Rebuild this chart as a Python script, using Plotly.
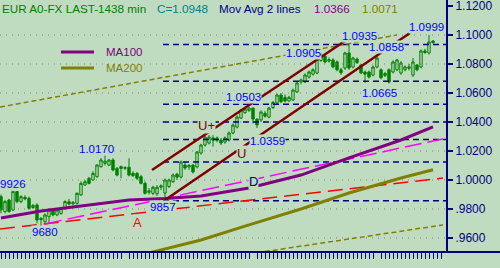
import plotly.graph_objects as go

BG = "#c0dcc0"
GREEN = "#008000"
NAVY = "#000080"
BLUE = "#0000ff"
PURPLE = "#800080"
OLIVE = "#808000"
DKRED = "#800000"
FONT = "Liberation Sans, Arial, sans-serif"

# ---- candle data (index = trading day) ----
opens = [0.9885,0.9782,0.9862,0.9793,0.9920,0.9851,0.9880,0.9874,0.9810,0.9828,
         0.9735,0.9712,0.9747,0.9793,0.9759,0.9770,0.9805,0.9850,0.9835,0.9839,
         0.9897,0.9966,1.0012,1.0000,1.0023,1.0092,1.0115,1.0103,1.0138,1.0080,
         1.0092,1.0080,1.0088,1.0046,1.0046,1.0023,0.9977,0.9915,0.9908,0.9905,
         0.9950,0.9910,0.9955,0.9988,1.0040,1.0020,1.0103,1.0090,1.0103,1.0090,
         1.0186,1.0241,1.0255,1.0290,1.0275,1.0275,1.0262,1.0276,1.0324,1.0365,
         1.0427,1.0465,1.0480,1.0496,1.0420,1.0414,1.0460,1.0434,1.0500,1.0531,
         1.0586,1.0570,1.0545,1.0552,1.0607,1.0676,1.0676,1.0710,1.0730,1.0738,
         1.0825,1.0855,1.0820,1.0828,1.0814,1.0760,1.0772,1.0876,1.0779,1.0834,
         1.0793,1.0745,1.0745,1.0724,1.0779,1.0760,1.0720,1.0760,1.0745,1.0760,
         1.0738,1.0760,1.0770,1.0724,1.0793,1.0779,1.0890,1.0876,1.0958]
highs = [0.9900,0.9862,0.9870,0.9926,0.9924,0.9895,0.9895,0.9885,0.9835,0.9840,
         0.9745,0.9770,0.9805,0.9805,0.9800,0.9815,0.9860,0.9870,0.9855,0.9915,
         0.9990,1.0000,1.0020,1.0060,1.0110,1.0150,1.0170,1.0145,1.0150,1.0090,
         1.0100,1.0095,1.0150,1.0060,1.0055,1.0035,0.9990,0.9945,0.9960,0.9965,
         0.9970,1.0010,1.0010,1.0045,1.0050,1.0135,1.0125,1.0110,1.0110,1.0200,
         1.0250,1.0305,1.0310,1.0310,1.0300,1.0290,1.0300,1.0335,1.0390,1.0445,
         1.0490,1.0495,1.0503,1.0500,1.0425,1.0480,1.0475,1.0505,1.0545,1.0595,
         1.0600,1.0590,1.0580,1.0630,1.0680,1.0700,1.0735,1.0755,1.0770,1.0905,
         1.0875,1.0865,1.0845,1.0840,1.0825,1.0775,1.0885,1.0935,1.0850,1.0845,
         1.0800,1.0755,1.0755,1.0790,1.0858,1.0770,1.0745,1.0770,1.0825,1.0835,
         1.0820,1.0790,1.0800,1.0841,1.0800,1.0900,1.0905,1.0999,1.0965]
lows = [0.9770,0.9770,0.9775,0.9785,0.9840,0.9840,0.9860,0.9795,0.9800,0.9700,
        0.9680,0.9700,0.9702,0.9750,0.9750,0.9760,0.9795,0.9825,0.9825,0.9830,
        0.9890,0.9960,0.9970,0.9995,1.0015,1.0085,1.0100,1.0095,1.0060,1.0025,
        1.0012,1.0070,1.0025,1.0020,1.0000,0.9970,0.9900,0.9900,0.9895,0.9890,
        0.9930,0.9857,0.9945,0.9980,1.0000,1.0010,1.0070,1.0070,1.0045,1.0080,
        1.0175,1.0230,1.0245,1.0230,1.0260,1.0240,1.0250,1.0265,1.0315,1.0355,
        1.0420,1.0455,1.0470,1.0390,1.0359,1.0400,1.0430,1.0425,1.0490,1.0525,
        1.0530,1.0535,1.0540,1.0545,1.0600,1.0660,1.0670,1.0700,1.0720,1.0730,
        1.0815,1.0805,1.0810,1.0770,1.0750,1.0725,1.0760,1.0760,1.0770,1.0800,
        1.0730,1.0670,1.0700,1.0715,1.0770,1.0695,1.0710,1.0665,1.0735,1.0750,
        1.0725,1.0750,1.0755,1.0710,1.0750,1.0770,1.0870,1.0865,1.0940]
closes = [0.9793,0.9851,0.9782,0.9920,0.9851,0.9885,0.9870,0.9805,0.9825,0.9724,
          0.9728,0.9759,0.9793,0.9759,0.9793,0.9805,0.9851,0.9835,0.9845,0.9908,
          0.9977,0.9988,0.9977,1.0046,1.0103,1.0138,1.0130,1.0138,1.0069,1.0034,
          1.0080,1.0085,1.0034,1.0030,1.0012,0.9977,0.9908,0.9925,0.9950,0.9950,
          0.9960,1.0000,1.0000,1.0034,1.0020,1.0124,1.0083,1.0100,1.0055,1.0193,
          1.0241,1.0296,1.0296,1.0275,1.0290,1.0255,1.0290,1.0324,1.0379,1.0434,
          1.0483,1.0490,1.0496,1.0420,1.0380,1.0469,1.0440,1.0496,1.0535,1.0586,
          1.0540,1.0545,1.0570,1.0620,1.0669,1.0690,1.0724,1.0745,1.0760,1.0841,
          1.0862,1.0814,1.0830,1.0780,1.0760,1.0740,1.0876,1.0772,1.0841,1.0810,
          1.0738,1.0730,1.0710,1.0779,1.0841,1.0705,1.0735,1.0676,1.0814,1.0828,
          1.0807,1.0780,1.0780,1.0814,1.0760,1.0890,1.0880,1.0952,1.0948]
days = list(range(len(closes)))

# ---- moving averages (sampled points) ----
ma100_x = [0, 10, 20, 32, 41, 50, 62, 75, 87, 100, 108]
ma100_y = [0.9738, 0.9786, 0.9821, 0.9862, 0.9872, 0.9890, 0.9945, 1.0034, 1.0152, 1.0276, 1.0366]
ma200_x = [36, 50, 62, 75, 87, 100, 108]
ma200_y = [0.9490, 0.9586, 0.9690, 0.9800, 0.9910, 1.0014, 1.0071]

# ---- drawn trend lines (start/end in day, price) ----
red_x, red_y = [-0.25, 110.5], [0.9662, 1.0014]
mag_x, mag_y = [11, 110.5], [0.9697, 1.0283]
olive_up_x, olive_up_y = [-0.25, 99], [1.0503, 1.1000]
olive_lo_x, olive_lo_y = [62, 110.5], [0.9490, 0.9690]
chan_up_x, chan_up_y = [37.75, 86.0], [1.0069, 1.0959]
chan_lo_x, chan_lo_y = [41, 102.25], [0.9862, 1.1014]

# ---- retracement levels ----
fib_start = 40.5
fib_levels = [1.0935, 1.0681, 1.0523, 1.0400, 1.0280, 1.0124, 0.9857]
grid_levels = [0.96, 0.98, 1.00, 1.02, 1.04, 1.06, 1.08, 1.10]

tick_vals = [0.96, 0.98, 1.00, 1.02, 1.04, 1.06, 1.08, 1.10, 1.12]
tick_text = [".9600", ".9800", "1.0000", "1.0200", "1.0400", "1.0600", "1.0800", "1.1000", "1.1200"]

x_ticks = [i for i in range(111) if i not in (31, 63, 94)]

# price labels: (text, day, price, color)
labels = [
    ("9926", 2.9, 0.9972, BLUE), ("9680", 11.0, 0.9641, BLUE),
    ("1.0170", 23.9, 1.0217, BLUE), ("9857", 40.6, 0.9817, BLUE),
    ("1.0503", 60.5, 1.0569, BLUE), ("1.0359", 66.6, 1.0269, BLUE),
    ("1.0905", 75.5, 1.0879, BLUE), ("1.0935", 89.5, 1.0990, BLUE),
    ("1.0858", 96.4, 1.0914, BLUE), ("1.0665", 94.5, 1.0603, BLUE),
    ("1.0999", 106.25, 1.1052, BLUE),
]
marks = [("U+", 51.25, 1.0379, DKRED), ("U", 60.1, 1.0186, DKRED),
         ("D", 63.1, 0.9993, NAVY), ("A", 34.1, 0.9707, "#ff0000")]

XR = [-0.25, 111.25]
YR = [0.95034, 1.12414]

fig = go.Figure()

for lv in grid_levels:
    fig.add_trace(go.Scatter(x=XR, y=[lv, lv], mode="lines", hoverinfo="skip",
                             line=dict(color="#808080", width=1, dash="1px,5px"), showlegend=False))
for lv in fib_levels:
    fig.add_trace(go.Scatter(x=[fib_start, XR[1]], y=[lv, lv], mode="lines", hoverinfo="skip",
                             line=dict(color=NAVY, width=1.5, dash="6px,4px"), showlegend=False))

def line(xs, ys, color, width, dash="solid"):
    fig.add_trace(go.Scatter(x=xs, y=ys, mode="lines", hoverinfo="skip",
                             line=dict(color=color, width=width, dash=dash), showlegend=False))

line(olive_up_x, olive_up_y, OLIVE, 1.5, "5px,3px")
line(olive_lo_x, olive_lo_y, OLIVE, 1.5, "5px,3px")
line(red_x, red_y, "#ff0000", 1.5, "15px,7px")
line(mag_x, mag_y, "#ff00ff", 1.5, "17px,6px")
line(ma200_x, ma200_y, OLIVE, 3)
line(ma100_x, ma100_y, PURPLE, 3)
line(chan_up_x, chan_up_y, DKRED, 2.5)
line(chan_lo_x, chan_lo_y, DKRED, 2.5)

fig.add_trace(go.Candlestick(
    x=days, open=opens, high=highs, low=lows, close=closes,
    increasing=dict(line=dict(color=GREEN, width=1), fillcolor=BG),
    decreasing=dict(line=dict(color=GREEN, width=1), fillcolor=GREEN),
    whiskerwidth=0, showlegend=False, hoverinfo="skip"))

ann = []
for t, xx, yy, c in labels:
    ann.append(dict(text=t, x=xx, y=yy, xref="x", yref="y", showarrow=False,
                    font=dict(family=FONT, size=11.5, color=c), bgcolor=BG, borderpad=0))
for t, xx, yy, c in marks:
    ann.append(dict(text=t, x=xx, y=yy, xref="x", yref="y", showarrow=False,
                    font=dict(family=FONT, size=13, color=c), bgcolor=BG, borderpad=0))

PW, PH = 446.0, 252.0
def px(x):
    return x / PW
def py(y):
    return 1 - y / PH

header = [("EUR A0-FX LAST-1438 min", 0, GREEN), ("C=1.0948", 155, "#008080"),
          ("Mov Avg 2 lines", 217, NAVY), ("1.0366", 312, PURPLE), ("1.0071", 360, OLIVE)]
for t, x0, c in header:
    ann.append(dict(text=t, x=px(x0), y=py(8), xref="paper", yref="paper", xanchor="left",
                    yanchor="middle", showarrow=False, font=dict(family=FONT, size=11.7, color=c)))

legend = [("MA100", 52, PURPLE), ("MA200", 68, OLIVE)]
shapes = []
for t, yy, c in legend:
    shapes.append(dict(type="line", xref="paper", yref="paper", x0=px(61), x1=px(94),
                       y0=py(yy), y1=py(yy), line=dict(color=c, width=3)))
    ann.append(dict(text=t, x=px(104), y=py(yy), xref="paper", yref="paper", xanchor="left",
                    yanchor="middle", showarrow=False, font=dict(family=FONT, size=11.5, color=c)))

shapes.append(dict(type="line", xref="paper", yref="paper", x0=0, x1=500 / PW, y0=0, y1=0,
                   line=dict(color=NAVY, width=2)))

fig.update_layout(
    width=500, height=268, margin=dict(l=0, r=54, t=0, b=16),
    paper_bgcolor=BG, plot_bgcolor=BG, showlegend=False,
    annotations=ann, shapes=shapes, boxgap=0.15,
    xaxis=dict(range=XR, rangeslider=dict(visible=False), showgrid=False, zeroline=False,
               showline=False, ticks="outside", ticklen=6, tickwidth=1, tickcolor=NAVY,
               tickvals=x_ticks, showticklabels=False, fixedrange=True),
    yaxis=dict(range=YR, side="right", showgrid=False, zeroline=False, showline=True,
               linecolor=NAVY, linewidth=2, ticks="outside", ticklen=5, tickwidth=2,
               tickcolor=NAVY, tickvals=tick_vals, ticktext=tick_text,
               ticklabeloverflow="allow",
               tickfont=dict(family=FONT, size=12, color=NAVY), fixedrange=True),
)

fig.write_html("out.html")
